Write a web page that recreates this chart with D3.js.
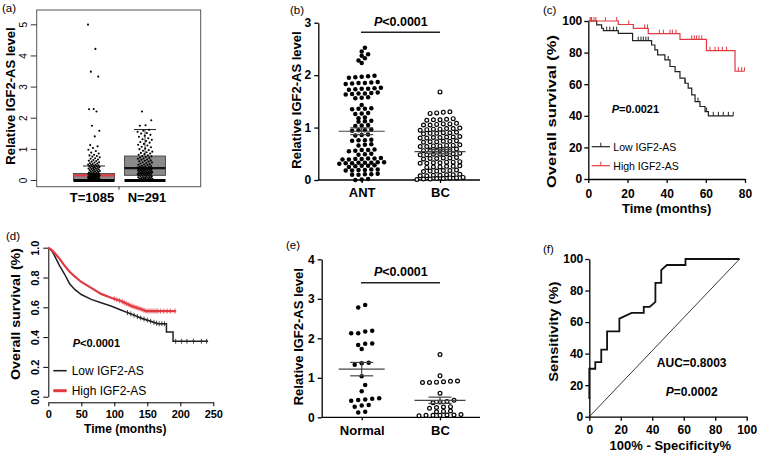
<!DOCTYPE html>
<html><head><meta charset="utf-8">
<script src="https://cdn.jsdelivr.net/npm/d3@7"></script>
<style>body{margin:0;background:#fff}svg text{font-family:"Liberation Sans",Arial,sans-serif;fill:#000}</style>
</head><body><svg id="c" width="758" height="456"></svg>
<script>
// ---------------- DATA ----------------
// (a) GEPIA boxplot
const aCats = ["T=1085", "N=291"];
const aTicks = [0, 1, 2, 3, 4, 5];
const aBoxQ1 = [0.0, 0.15];
const aBoxMed = [0.15, 0.38];
const aBoxQ3 = [0.21, 0.77];
const aWhiskHi = [0.45, 1.62];
const aWhiskLo = [0.0, 0.0];
const aTumor = [4.99,4.21,3.48,3.32,2.28,2.27,2.20,1.74,1.58,1.40,1.12,1.08,1.03,0.97,0.93,0.88,0.85,0.81,0.79,0.77,0.75,0.73,0.70,0.68,0.66,0.64,0.62,0.61,0.59,0.57,0.56,0.54,0.53,0.51,0.50,0.49,0.48,0.47,0.46,0.45,0.44,0.43,0.42,0.41,0.40,0.39,0.38,0.37,0.36,0.35,0.34,0.33,0.32,0.31,0.30,0.29,0.28,0.27,0.26,0.25,0.24,0.23,0.22,0.21,0.21,0.20,0.20,0.19,0.19,0.18,0.18,0.17,0.17,0.16,0.16,0.15,0.15,0.14,0.14,0.13,0.13,0.12,0.12,0.11,0.11,0.10,0.10,0.09,0.09,0.08,0.08,0.07,0.07,0.06,0.06,0.05,0.05,0.04,0.04,0.03,0.03,0.02,0.02,0.01,0.01,0.00,0.00];
const aNormal = [2.20,1.92,1.76,1.74,1.61,1.58,1.55,1.51,1.49,1.45,1.42,1.39,1.34,1.31,1.29,1.25,1.22,1.20,1.16,1.13,1.11,1.07,1.05,1.01,0.99,0.96,0.94,0.91,0.89,0.87,0.85,0.83,0.81,0.79,0.77,0.76,0.74,0.72,0.71,0.69,0.68,0.66,0.65,0.63,0.62,0.60,0.59,0.57,0.56,0.54,0.53,0.51,0.50,0.49,0.48,0.46,0.45,0.44,0.43,0.42,0.41,0.40,0.39,0.38,0.37,0.37,0.36,0.36,0.35,0.35,0.34,0.33,0.33,0.32,0.31,0.31,0.30,0.29,0.29,0.28,0.27,0.27,0.26,0.25,0.25,0.24,0.23,0.23,0.22,0.22,0.21,0.21,0.20,0.20,0.19,0.18,0.18,0.17,0.16,0.15,0.15,0.14,0.13,0.12,0.12,0.11,0.10,0.09,0.09,0.08,0.07,0.07,0.06,0.05,0.05,0.04,0.04,0.03,0.03,0.02,0.02,0.01,0.01,0.00];

// (b) scatter ANT vs BC
const bCats = ["ANT", "BC"];
const bTicks = [0, 1, 2, 3];
const bANT = [2.52,2.45,2.40,2.37,2.32,2.28,2.23,
  1.99,1.98,1.97,1.96,1.95, 1.87,1.86,1.85,1.85,1.84,1.83, 1.76,1.75,1.74,1.74,1.73,1.72,
  1.67,1.66,1.65,1.65,1.64,1.63, 1.58,1.57,1.56, 1.43, 1.37,1.36,1.36,1.35, 1.28,1.27,1.26,
  1.19,1.18, 1.13,1.12,1.11, 1.05,1.04,1.03, 0.96,0.95,0.95,0.94, 0.87,0.86,0.85,
  0.77,0.76,0.76,0.75, 0.68,0.67,0.66, 0.58,0.57,0.57,0.56,0.55, 0.50,0.49,0.48,
  0.42,0.41,0.41,0.40,0.40,0.39,0.39, 0.34,0.34,0.33,0.33,0.33,0.32,0.32,0.31,
  0.28,0.27,0.27,0.26,0.25, 0.20,0.20,0.19,0.19,0.18,0.18, 0.12,0.11,0.11,0.10,0.10, 0.02,0.01,0.00];
const bBC = [1.68, 1.30,1.29,1.28,1.27, 1.17,1.16,1.15,1.15,1.14, 1.08,1.07,1.07,1.06,1.05,1.05,
  0.99,0.98,0.98,0.97,0.97,0.96,0.95, 0.91,0.90,0.90,0.89,0.89,0.88, 0.83,0.82,0.82,0.81,0.81,0.80,0.80,
  0.75,0.74,0.74,0.73,0.73,0.72, 0.67,0.66,0.66,0.65,0.65,0.64,0.64, 0.59,0.58,0.58,0.57,0.57,0.56,
  0.51,0.50,0.50,0.49,0.49,0.48,0.48, 0.43,0.42,0.42,0.41,0.41,0.40, 0.35,0.34,0.34,0.33,0.33,0.32,0.32,
  0.27,0.26,0.26,0.25,0.25,0.24, 0.19,0.18,0.18,0.17,0.17,0.16, 0.11,0.10,0.10,0.09,0.09,0.08,0.08,
  0.05,0.04,0.04,0.03,0.03,0.02,0.02,0.01];
const bMean = [0.93, 0.54];
const bSEM = [0.065, 0.04];

// (c) KM curves (%)
const cXTicks = [0, 20, 40, 60, 80];
const cYTicks = [0, 20, 40, 60, 80, 100];
const cLowT = [0, 4.3, 6.8, 7.7, 15.3, 22.6, 32.3, 34, 35.4, 39.1, 41.7, 44.3, 46.8, 49.4, 51, 52.8, 54.5, 57, 59.6, 61.3, 74];
const cLowS = [100, 97.5, 95.4, 93.9, 92.2, 87.6, 84.8, 81.7, 78.5, 75.4, 71.2, 68, 63.8, 60.6, 57.5, 53.3, 49, 45.9, 42.7, 40, 40];
const cHighT = [0, 15.3, 23, 30.6, 46.8, 60.3, 74.9, 79.7];
const cHighS = [100, 97.8, 95.3, 92, 88.4, 81.2, 68.2, 68.2];
const cLowCens = [1.5, 9.4, 11, 12.8, 14.5, 25.5, 26.9, 28.1, 29.4, 30.6, 40.8, 49.4, 56, 60.4, 63.8, 66.4, 68.9, 71.5, 74];
const cHighCens = [0.9, 1.7, 2.9, 3.9, 8.7, 14.5, 20.6, 28.8, 30.2, 36.3, 38.3, 41.7, 42.9, 44.8, 52.8, 54.1, 55.3, 56.5, 57.9, 62.1, 64.7, 66.4, 68.4, 70.6, 76.6, 78.3, 79.7];

// (d) KM curves (fraction)
const dXTicks = [0, 50, 100, 150, 200, 250];
const dYTicks = [0, 0.2, 0.4, 0.6, 0.8, 1.0];
const dLowT = [0, 5, 9, 13, 17, 21, 25, 32, 40, 50, 65, 80, 95, 110, 126, 141, 156, 166, 179, 179, 189, 189, 242];
const dLowS = [1.0, 0.98, 0.95, 0.915, 0.88, 0.85, 0.82, 0.76, 0.72, 0.686, 0.653, 0.63, 0.609, 0.582, 0.554, 0.527, 0.505, 0.49, 0.49, 0.435, 0.435, 0.372, 0.372];
const dHighT = [0, 5, 9, 17, 24, 32, 40, 50, 65, 80, 95, 110, 126, 141, 148, 193];
const dHighS = [1.0, 0.985, 0.967, 0.927, 0.883, 0.84, 0.807, 0.77, 0.73, 0.69, 0.664, 0.642, 0.609, 0.587, 0.575, 0.575];
const dLowCens = [120, 125, 130, 135, 140, 145, 150, 155, 160, 164, 168, 172, 176, 193, 202, 210, 220, 232, 240];
const dHighCens = [100, 104, 108, 112, 115, 118, 121, 124, 127, 130, 133, 136, 139, 142, 145, 148, 151, 154, 157, 160, 163, 166, 170, 175, 180, 185, 192];

// (e) scatter Normal vs BC
const eCats = ["Normal", "BC"];
const eTicks = [0, 1, 2, 3, 4];
const eNormal = [2.84,2.78,2.19,2.17,2.13,2.13,1.87,1.86,1.83,1.73,1.38,1.37,1.33,1.04,0.82,0.66,0.48,0.47,0.45,0.44,0.42,0.31,0.30,0.27,0.14,0.12];
const eBC = [1.59,1.05,0.92,0.91,0.90,0.89,0.88,0.88,0.61,0.43,0.40,0.39,0.37,0.27,0.26,0.25,0.23,0.16,0.15,0.14,0.07,0.06,0.06,0.05,0.05,0.05,0.04];
const eMean = [1.22, 0.43];
const eSEM = [0.17, 0.08];

// (f) ROC
const fTicks = [0, 20, 40, 60, 80, 100];
const fFPR = [0, 0, 3.8, 3.8, 7.6, 7.6, 11.3, 11.3, 19.1, 19.1, 26.9, 34.6, 34.6, 38.4, 42, 42, 45.7, 45.7, 49.3, 61.1, 61.1, 95.5];
const fTPR = [11.3, 30.4, 30.4, 34.6, 34.6, 42.5, 42.5, 54.1, 54.1, 62.2, 65.8, 65.8, 69.6, 69.6, 72.8, 84.9, 84.9, 93, 96.2, 96.2, 100, 100];
const fDiagX = [0, 95.5];
const fDiagY = [0, 100];

// ---------------- DRAWING ----------------
const svg = d3.select("#c");
const RED = "#e23a41";

function label(x, y, s, size, opts = {}) {
  return svg.append("text").attr("x", x).attr("y", y).attr("font-size", size)
    .attr("text-anchor", opts.anchor || "start").attr("font-weight", opts.bold ? "bold" : "normal").text(s);
}
function vtitle(x, y, s, size, len) {
  const t = svg.append("text").attr("transform", `translate(${x},${y}) rotate(-90)`)
    .attr("text-anchor", "middle").attr("dy", "0.35em").attr("font-weight", "bold").attr("font-size", size).text(s);
  if (len) t.attr("textLength", len).attr("lengthAdjust", "spacingAndGlyphs");
  return t;
}
function ptext(x, y, rest, size, anchor) {
  const t = svg.append("text").attr("x", x).attr("y", y).attr("font-size", size).attr("font-weight", "bold")
    .attr("text-anchor", anchor || "start");
  t.append("tspan").attr("font-style", "italic").text("P");
  t.append("tspan").text(rest);
  return t;
}
function styleAxis(g, size, sw) {
  g.select(".domain").attr("stroke", "#000").attr("stroke-width", sw || 1.3);
  g.selectAll(".tick line").attr("stroke", "#000").attr("stroke-width", sw || 1.3);
  g.selectAll("text").attr("font-weight", "bold").attr("font-size", size).attr("fill", "#000")
    .attr("font-family", '"Liberation Sans", Arial, sans-serif');
}
// Prism-like column scatter: values grouped into rows, each row centred, adjacent rows staggered
function swarm(vals, y, cx, s, h) {
  const pts = vals.map(v => ({ v, py: y(v) })).sort((a, b) => b.py - a.py);
  const rows = []; let cur = null;
  pts.forEach(p => {
    if (!cur || cur.start - p.py > h) { cur = { start: p.py, pts: [] }; rows.push(cur); }
    cur.pts.push(p);
  });
  const out = []; let prev = null;
  rows.forEach(r => {
    const n = r.pts.length; let shift = 0;
    if (prev && prev.start - r.start < s && (n % 2) === (prev.n % 2) && prev.shift === 0) shift = s / 2;
    r.pts.forEach((p, j) => out.push({ x: cx + (j - (n - 1) / 2) * s + shift, y: p.py }));
    prev = { start: r.start, n, shift };
  });
  return out;
}
function stepAt(ts, ss, t) { let s = ss[0]; for (let i = 0; i < ts.length; i++) if (ts[i] <= t) s = ss[i]; return s; }
function linAt(ts, ss, t) {
  for (let i = ts.length - 1; i > 0; i--) {
    if (t >= ts[i - 1] && t <= ts[i]) {
      if (ts[i] === ts[i - 1]) return ss[i];
      return ss[i - 1] + (ss[i] - ss[i - 1]) * (t - ts[i - 1]) / (ts[i] - ts[i - 1]);
    }
  }
  return ss[ss.length - 1];
}

// ===== Panel (a) =====
(function () {
  const yA = d3.scaleLinear([0, 5], [180, 24.3]);
  const xA = d3.scalePoint(aCats, [94, 145]);
  const L = 36.7, R = 200.7, T = 10, B = 186.7, hw = 20.5;
  label(2, 12, "(a)", 11.5);
  const g = svg.append("g");
  aCats.forEach((c, i) => {
    const cx = xA(c);
    g.append("line").attr("x1", cx).attr("x2", cx).attr("y1", yA(aBoxQ3[i])).attr("y2", yA(aWhiskHi[i])).attr("stroke", "#222").attr("stroke-width", 0.8);
    g.append("line").attr("x1", cx - 11).attr("x2", cx + 11).attr("y1", yA(aWhiskHi[i])).attr("y2", yA(aWhiskHi[i])).attr("stroke", "#222").attr("stroke-width", 1);
    g.append("rect").attr("x", cx - hw).attr("width", 2 * hw).attr("y", yA(aBoxQ3[i]))
      .attr("height", yA(aBoxQ1[i]) - yA(aBoxQ3[i])).attr("fill", "#8a8a8a").attr("stroke", "#444").attr("stroke-width", 0.9);
    g.append("line").attr("x1", cx - hw).attr("x2", cx + hw).attr("y1", yA(aBoxMed[i])).attr("y2", yA(aBoxMed[i]))
      .attr("stroke", i === 0 ? RED : "#111").attr("stroke-width", 2.2);
    g.append("line").attr("x1", cx - hw).attr("x2", cx + hw).attr("y1", yA(aWhiskLo[i]) + 0.5).attr("y2", yA(aWhiskLo[i]) + 0.5)
      .attr("stroke", "#000").attr("stroke-width", 3.2);
  });
  const frac = v => v - Math.floor(v);
  [[aTumor, 0, 12], [aNormal, 1, 15]].forEach(([vals, ci, w]) => {
    const cx = xA(aCats[ci]);
    g.selectAll(null).data(vals).join("circle")
      .attr("cx", (d, i) => cx + (frac(i * 0.6180339887 + ci * 0.3) - 0.5) * w)
      .attr("cy", d => yA(d)).attr("r", 1.05).attr("fill", "#000");
  });
  svg.append("rect").attr("x", L).attr("y", T).attr("width", R - L).attr("height", B - T)
    .attr("fill", "none").attr("stroke", "#555").attr("stroke-width", 1);
  const ga = svg.append("g").attr("transform", `translate(${L},0)`)
    .call(d3.axisLeft(yA).tickValues(aTicks).tickSize(6).tickSizeOuter(0).tickFormat(d3.format("d")));
  ga.select(".domain").remove();
  ga.selectAll(".tick line").attr("stroke", "#333");
  ga.selectAll("text").attr("x", 0).attr("dy", "0.35em").attr("text-anchor", "middle")
    .attr("transform", "translate(-13.2,0) rotate(-90)").attr("font-size", 10).attr("fill", "#000")
    .attr("font-family", '"Liberation Sans", Arial, sans-serif');
  svg.append("line").attr("x1", 119).attr("x2", 119).attr("y1", B).attr("y2", B + 3).attr("stroke", "#333");
  aCats.forEach((c, i) => label(xA(c) + (i === 0 ? -2 : 2), 201.5, c, 13, { anchor: "middle", bold: true }));
  vtitle(10, 96, "Relative IGF2-AS level", 13);
})();

// ===== Column scatter panels (b) and (e) =====
function columnScatter(opts) {
  const { cats, ticks, groups, mean, sem, y, axisX, axisR, cxs, pBarY, pY, titleX, titleY, tag, tagX, tagY, sp } = opts;
  label(tagX, tagY, tag, 11.5);
  const gy = svg.append("g").attr("transform", `translate(${axisX},0)`)
    .call(d3.axisLeft(y).tickValues(ticks).tickSize(4).tickPadding(3).tickSizeOuter(0).tickFormat(d3.format("d")));
  styleAxis(gy, 12);
  svg.append("line").attr("x1", axisX).attr("x2", axisR).attr("y1", y(0)).attr("y2", y(0)).attr("stroke", "#000").attr("stroke-width", 1.3);
  const xs = d3.scalePoint(cats, cxs);
  const gx = svg.append("g").attr("transform", `translate(0,${y(0)})`)
    .call(d3.axisBottom(xs).tickSize(3).tickPadding(5).tickSizeOuter(0));
  gx.select(".domain").remove();
  styleAxis(gx, 13);
  groups.forEach((vals, gi) => {
    const pts = swarm(vals, y, xs(cats[gi]), sp[gi], 2.5);
    svg.selectAll(null).data(pts).join("circle").attr("cx", d => d.x).attr("cy", d => d.y)
      .attr("r", gi === 0 ? 2.25 : 1.9)
      .attr("fill", gi === 0 ? "#000" : "#fff").attr("stroke", "#000").attr("stroke-width", gi === 0 ? 0 : 1.2);
  });
  groups.forEach((vals, gi) => {
    const cx = xs(cats[gi]), m = y(mean[gi]), hi = y(mean[gi] + sem[gi]), lo = y(mean[gi] - sem[gi]);
    const hw = gi === 0 ? 23 : 25.5;
    const sg = svg.append("g").attr("stroke", "#444").attr("stroke-width", 1.2);
    sg.append("line").attr("x1", cx - hw).attr("x2", cx + hw).attr("y1", m).attr("y2", m);
    sg.append("line").attr("x1", cx).attr("x2", cx).attr("y1", hi).attr("y2", lo);
    sg.append("line").attr("x1", cx - 11.5).attr("x2", cx + 11.5).attr("y1", hi).attr("y2", hi);
    sg.append("line").attr("x1", cx - 11.5).attr("x2", cx + 11.5).attr("y1", lo).attr("y2", lo);
  });
  svg.append("line").attr("x1", xs(cats[0]) - 0.7).attr("x2", xs(cats[1])).attr("y1", pBarY).attr("y2", pBarY).attr("stroke", "#222").attr("stroke-width", 1.5);
  ptext((cxs[0] + cxs[1]) / 2, pY, "<0.0001", 12.5, "middle");
  vtitle(titleX, titleY, "Relative IGF2-AS level", 13);
}
columnScatter({
  cats: bCats, ticks: bTicks, groups: [bANT, bBC], mean: bMean, sem: bSEM, sp: [6.4, 6.6],
  y: d3.scaleLinear([0, 3], [180, 22.7]), axisX: 318.3, axisR: 480, cxs: [361.7, 440],
  pBarY: 32.3, pY: 25.5, titleX: 296.7, titleY: 100, tag: "(b)", tagX: 290, tagY: 14
});
columnScatter({
  cats: eCats, ticks: eTicks, groups: [eNormal, eBC], mean: eMean, sem: eSEM, sp: [7, 7],
  y: d3.scaleLinear([0, 4], [417.3, 259.3]), axisX: 321.7, axisR: 480, cxs: [361.7, 440],
  pBarY: 282.7, pY: 276, titleX: 298.3, titleY: 336.7, tag: "(e)", tagX: 286, tagY: 249
});

// ===== Panel (c) =====
(function () {
  const x = d3.scaleLinear([0, 80], [588.3, 745]);
  const y = d3.scaleLinear([0, 100], [179, 21]);
  label(543, 13.5, "(c)", 11.5);
  const gy = svg.append("g").attr("transform", `translate(${x(0)},0)`)
    .call(d3.axisLeft(y).tickValues(cYTicks).tickSize(4).tickPadding(2).tickSizeOuter(0));
  styleAxis(gy, 12);
  const gx = svg.append("g").attr("transform", `translate(0,${y(0)})`)
    .call(d3.axisBottom(x).tickValues(cXTicks).tickSize(4).tickPadding(6).tickSizeOuter(0));
  styleAxis(gx, 12);
  const line = d3.line().x(d => x(d[0])).y(d => y(d[1])).curve(d3.curveStepAfter);
  [[cLowT, cLowS, "#222", cLowCens], [cHighT, cHighS, RED, cHighCens]].forEach(([ts, ss, col, cens]) => {
    svg.append("path").attr("d", line(ts.map((t, i) => [t, ss[i]]))).attr("fill", "none").attr("stroke", col).attr("stroke-width", 1.2);
    svg.selectAll(null).data(cens).join("line")
      .attr("x1", d => x(d)).attr("x2", d => x(d))
      .attr("y1", d => y(stepAt(ts, ss, d))).attr("y2", d => y(stepAt(ts, ss, d)) - 4)
      .attr("stroke", col).attr("stroke-width", 1);
  });
  ptext(611.7, 113, "=0.0021", 11);
  [["Low IGF2-AS", "#222", 146.7], ["High IGF2-AS", RED, 165.7]].forEach(([s, col, yy]) => {
    svg.append("line").attr("x1", 591.7).attr("x2", 610).attr("y1", yy).attr("y2", yy).attr("stroke", col).attr("stroke-width", 1.2);
    svg.append("line").attr("x1", 600.8).attr("x2", 600.8).attr("y1", yy).attr("y2", yy - 4).attr("stroke", col).attr("stroke-width", 1);
    label(613.3, yy + 4, s, 10.5);
  });
  vtitle(551.7, 111.5, "Overall survival (%)", 13, 153);
  label(666.7, 213, "Time (months)", 13, { anchor: "middle", bold: true });
})();

// ===== Panel (d) =====
(function () {
  const x = d3.scaleLinear([0, 250], [48.3, 213.3]);
  const y = d3.scaleLinear([0, 1], [396.7, 247.7]);
  label(6, 240, "(d)", 11.5);
  const gy = svg.append("g").attr("transform", `translate(${x(0)},0)`)
    .call(d3.axisLeft(y).tickValues(dYTicks).tickSize(5).tickSizeOuter(0).tickFormat(d3.format(".1f")));
  styleAxis(gy, 11, 1);
  gy.selectAll("text").attr("x", 0).attr("dy", "0.35em").attr("text-anchor", "middle")
    .attr("transform", "translate(-13.3,0) rotate(-90)");
  const gx = svg.append("g").attr("transform", "translate(0,402.3)")
    .call(d3.axisBottom(x).tickValues(dXTicks).tickSize(4).tickPadding(4).tickSizeOuter(0));
  styleAxis(gx, 11, 1);
  const line = d3.line().x(d => x(d[0])).y(d => y(d[1]));
  [[dLowT, dLowS, "#222", dLowCens, 1.5], [dHighT, dHighS, RED, dHighCens, 2.2]].forEach(([ts, ss, col, cens, sw]) => {
    svg.append("path").attr("d", line(ts.map((t, i) => [t, ss[i]]))).attr("fill", "none").attr("stroke", col).attr("stroke-width", sw);
    const cg = svg.append("g").attr("stroke", col).attr("stroke-width", 0.8);
    cens.forEach(t => {
      const cx = x(t), cy = y(linAt(ts, ss, t));
      cg.append("line").attr("x1", cx).attr("x2", cx).attr("y1", cy - 2.5).attr("y2", cy + 2.5);
      cg.append("line").attr("x1", cx - 1.5).attr("x2", cx + 1.5).attr("y1", cy).attr("y2", cy);
    });
  });
  ptext(72.7, 346.5, "<0.0001", 11);
  [["Low IGF2-AS", "#222", 370.7, 1.6], ["High IGF2-AS", RED, 390.7, 3]].forEach(([s, col, yy, sw]) => {
    svg.append("line").attr("x1", 53.3).attr("x2", 66.7).attr("y1", yy).attr("y2", yy).attr("stroke", col).attr("stroke-width", sw);
    label(71.7, yy + 4.3, s, 12);
  });
  vtitle(16, 314, "Overall survival (%)", 12.5, 132);
  label(125.3, 433, "Time (months)", 12, { anchor: "middle", bold: true });
})();

// ===== Panel (f) =====
(function () {
  const x = d3.scaleLinear([0, 100], [589.3, 746.7]);
  const y = d3.scaleLinear([0, 100], [416.7, 259]);
  label(543, 253, "(f)", 11.5);
  const gy = svg.append("g").attr("transform", `translate(${x(0)},0)`)
    .call(d3.axisLeft(y).tickValues(fTicks).tickSize(4).tickPadding(2).tickSizeOuter(0));
  styleAxis(gy, 12);
  const gx = svg.append("g").attr("transform", `translate(0,${y(0)})`)
    .call(d3.axisBottom(x).tickValues(fTicks).tickSize(4).tickPadding(5).tickSizeOuter(0));
  styleAxis(gx, 12);
  const line = d3.line().x(d => x(d[0])).y(d => y(d[1]));
  svg.append("path").attr("d", line(fDiagX.map((v, i) => [v, fDiagY[i]]))).attr("fill", "none").attr("stroke", "#222").attr("stroke-width", 0.9);
  svg.append("path").attr("d", line(fFPR.map((v, i) => [v, fTPR[i]]))).attr("fill", "none").attr("stroke", "#111").attr("stroke-width", 1.8);
  label(691.7, 366.5, "AUC=0.8003", 12, { anchor: "middle", bold: true });
  ptext(691.7, 396, "=0.0002", 12, "middle");
  vtitle(553.3, 331.7, "Sensitivity (%)", 13, 100);
  label(670.3, 449.5, "100% - Specificity%", 13, { anchor: "middle", bold: true });
})();
</script></body></html>
